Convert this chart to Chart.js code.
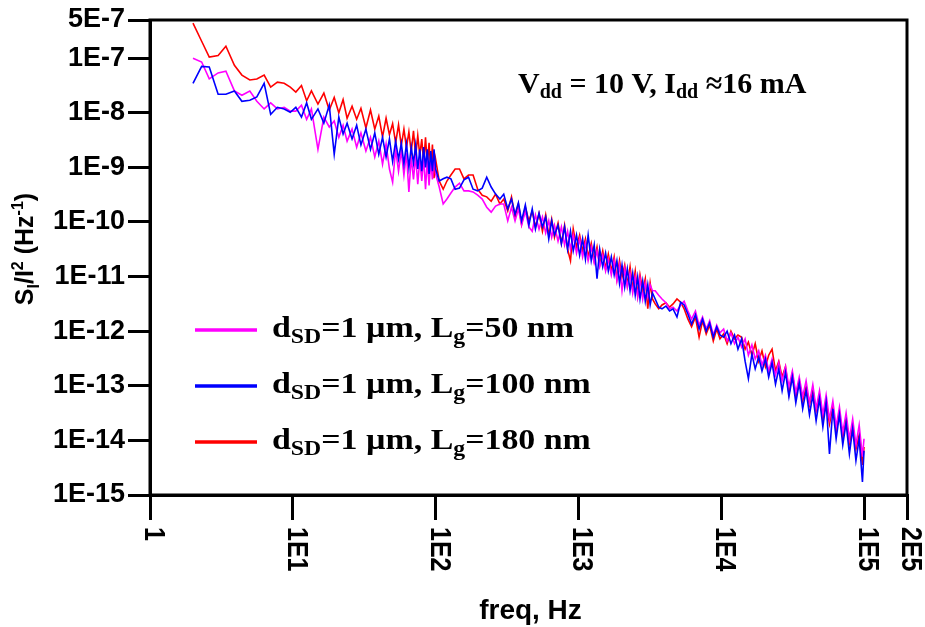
<!DOCTYPE html>
<html><head><meta charset="utf-8">
<script src="https://cdn.jsdelivr.net/npm/chart.js@4"></script>
<style>html,body{margin:0;padding:0;background:#fff}#wrap{width:925px;height:627px}</style>
</head><body><div id="wrap"><canvas id="c" width="925" height="627"></canvas></div>
<script>
// ---------- DATA ----------
const freqHz = [
  2, 2.3, 2.6, 3, 3.4, 3.9, 4.4, 5, 5.6, 6.3, 7, 7.8, 8.7, 9.6,
  10.5, 11.5, 12.5, 13.5, 15, 16.5, 18, 19.5, 21, 22.5, 24, 26, 28, 30, 32.5, 35, 37.5, 40, 42.5, 45, 47.5, 50,
  52.5, 55, 57.5, 60, 62.5, 65, 67.5, 70, 72.5, 75, 77.5, 80, 82.5, 85, 87.5, 90, 92.5, 95, 97.5, 100,
  106, 113, 120, 128, 137, 147, 158, 170, 183, 197, 212, 228, 245, 263, 282,
  300, 320, 340, 360, 380, 400, 425, 450, 475, 500, 530, 560, 590, 620, 650, 680, 720, 760, 800, 840, 880, 920,
  970, 1020, 1070, 1120, 1170, 1230, 1290, 1350, 1410, 1480, 1550, 1620, 1700, 1780, 1860, 1940, 2020, 2110,
  2200, 2300, 2400, 2500, 2600, 2700, 2820, 2940, 3060, 3180, 3300,
  3450, 3650, 3850, 4100, 4350, 4600, 4900, 5200, 5500, 5850, 6200, 6600, 7000, 7400, 7850, 8300, 8800, 9300, 9800,
  10400, 11000, 11700, 12400, 13100, 13900, 14700, 15500, 16400, 17300, 18300, 19300, 20400, 21500, 22700,
  24000, 25300, 26700, 28200, 29800, 31500, 33300, 35200, 37200, 39300, 41500, 43800, 46200, 48800, 51500,
  54300, 57300, 60500, 63800, 67300, 71000, 74900, 79000, 83300, 87800, 92500, 97500, 100000
];
// log10(S_I/I^2) per frequency
const logS_Lg50 = [
  -7.00, -7.07, -7.38, -7.27, -7.24, -7.60, -7.68, -7.60, -7.79, -7.93, -7.82, -7.93, -7.90, -7.97,
  -7.97, -7.86, -8.12, -7.93, -8.67, -8.08, -8.26, -8.15, -8.45, -8.23,
  -8.52, -8.30, -8.63, -8.37, -8.70, -8.45, -8.81, -8.52, -8.94, -8.57,
  -9.03, -9.27, -8.67, -9.07, -8.70, -9.14, -8.74, -9.45, -8.81, -9.22,
  -8.78, -9.31, -8.85, -9.25, -8.81, -9.40, -8.85, -9.33, -8.89, -9.22, -8.81, -9.12,
  -9.36, -9.67, -9.58, -9.47, -9.36, -9.29, -9.43, -9.43, -9.45, -9.51, -9.58, -9.73, -9.82, -9.71, -9.67,
  -9.67, -9.98, -9.73, -9.98, -9.76, -10.06, -9.80, -10.09, -10.17, -9.87,
  -10.13, -9.91, -10.20, -9.98, -10.28, -10.06, -10.35, -10.09, -10.42, -10.17,
  -10.50, -10.24, -10.57, -10.31, -10.64, -10.39, -10.71, -10.46, -10.75, -10.53,
  -10.82, -10.61, -10.90, -10.68, -10.97, -10.71, -11.08, -10.79, -11.26, -10.86,
  -11.19, -10.94, -11.30, -11.01, -11.37, -11.04, -11.41, -11.12, -11.37, -11.15, -11.26,
  -11.26, -11.34, -11.41, -11.48, -11.59, -11.56, -11.63, -11.52, -11.45, -11.63,
  -11.78, -11.63, -11.89, -11.74, -11.96, -11.81, -12.07, -11.89, -12.03,
  -11.96, -12.18, -12.03, -12.23, -12.11, -12.29, -12.14, -12.44, -12.25, -12.51,
  -12.36, -12.62, -12.44, -12.73, -12.51, -12.80, -12.58, -12.91, -12.65, -13.02,
  -12.73, -13.13, -12.84, -13.20, -12.91, -13.31, -12.98, -13.42, -13.09, -13.53,
  -13.17, -13.61, -13.28, -13.75, -13.39, -13.86, -13.50, -13.97, -13.61, -14.08,
  -13.72, -14.30, -13.97
];
const logS_Lg100 = [
  -7.46, -7.15, -7.16, -7.66, -7.66, -7.60, -7.79, -7.77, -7.71, -7.46, -8.03, -7.90, -7.93, -7.99,
  -7.90, -8.08, -7.82, -8.12, -7.93, -8.19, -7.86, -8.76, -8.08, -8.39,
  -8.19, -8.48, -8.23, -8.59, -8.30, -8.67, -8.37, -8.76, -8.45, -8.81,
  -8.48, -8.89, -8.52, -8.85, -8.56, -8.94, -8.57, -9.00, -8.63, -8.92,
  -8.59, -9.03, -8.67, -9.07, -8.63, -9.00, -8.67, -9.12, -8.70, -9.07, -8.67, -9.03,
  -9.25, -9.21, -9.18, -9.21, -9.40, -9.38, -9.23, -9.18, -9.40, -9.43, -9.38, -9.18, -9.36, -9.49, -9.58,
  -9.49, -9.76, -9.58, -9.86, -9.65, -9.98, -9.69, -10.06, -9.76, -10.13,
  -9.84, -10.09, -9.91, -10.31, -9.98, -10.24, -10.06, -10.40, -10.09, -10.50,
  -10.17, -10.53, -10.24, -10.61, -10.31, -10.68, -10.24, -10.71, -10.42, -11.04,
  -10.50, -10.82, -10.57, -10.90, -10.64, -10.97, -10.71, -11.12, -10.79, -11.19,
  -10.86, -11.26, -10.94, -11.34, -11.01, -11.41, -11.08, -11.45, -11.15, -11.52, -11.30,
  -11.41, -11.56, -11.59, -11.54, -11.63, -11.59, -11.74, -11.47, -11.52, -11.69,
  -11.87, -11.70, -11.96, -11.78, -12.00, -11.85, -12.11, -11.92, -12.07,
  -12.11, -12.00, -12.23, -12.07, -12.33, -12.14, -12.55, -12.87, -12.42, -12.69,
  -12.47, -12.73, -12.51, -12.84, -12.58, -12.97, -12.69, -13.09, -12.76, -13.20,
  -12.84, -13.31, -12.95, -13.42, -13.09, -13.53, -13.17, -13.64, -13.24, -13.75,
  -13.31, -14.25, -13.42, -13.97, -13.53, -14.08, -13.68, -14.25, -13.79, -14.37,
  -13.97, -14.76, -14.19
];
const logS_Lg180 = [
  -6.36, -6.69, -6.98, -6.95, -6.78, -7.13, -7.31, -7.40, -7.38, -7.31, -7.53, -7.44, -7.46, -7.53,
  -7.62, -7.50, -7.78, -7.60, -7.84, -7.64, -7.95, -7.72, -8.00, -7.76,
  -8.10, -7.88, -8.12, -7.92, -8.28, -7.95, -8.30, -8.06, -8.44, -8.10,
  -8.40, -8.20, -8.55, -8.22, -8.60, -8.30, -8.64, -8.35, -8.72, -8.33,
  -8.80, -8.42, -8.78, -8.48, -8.92, -8.45, -8.96, -8.55, -9.05, -8.58, -9.20, -8.85,
  -9.25, -9.40, -9.25, -9.14, -9.03, -9.03, -9.21, -9.14, -9.14, -9.40, -9.51, -9.54, -9.62, -9.49, -9.67,
  -9.58, -9.80, -9.54, -9.91, -9.67, -10.04, -9.73, -9.98, -9.80, -10.09,
  -9.84, -10.17, -9.87, -10.24, -9.95, -10.28, -10.02, -10.39, -10.06, -10.50,
  -10.71, -10.13, -10.46, -10.24, -10.53, -10.31, -10.64, -10.39, -10.71, -10.46,
  -10.79, -10.53, -10.86, -10.59, -10.90, -10.64, -11.04, -10.71, -11.01, -10.79,
  -11.15, -10.82, -11.23, -10.90, -11.34, -10.97, -11.26, -11.04, -11.59, -11.12, -11.41,
  -11.50, -11.59, -11.52, -11.48, -11.56, -11.50, -11.41, -11.47, -11.59, -11.78,
  -11.92, -11.74, -12.11, -11.81, -12.05, -11.89, -12.18, -11.96, -12.14,
  -12.05, -12.23, -12.00, -12.14, -12.07, -12.11, -12.33, -12.20, -12.44, -12.23,
  -12.55, -12.36, -12.65, -12.44, -12.33, -12.73, -12.55, -12.84, -12.65, -13.15,
  -12.78, -13.20, -12.91, -13.28, -13.02, -13.35, -13.06, -13.46, -13.17, -13.61,
  -13.28, -13.70, -13.39, -13.83, -13.50, -13.94, -13.61, -14.05, -13.75, -14.16,
  -13.90, -14.45, -14.12
];
const seriesLabels = ['dSD=1 µm, Lg=50 nm', 'dSD=1 µm, Lg=100 nm', 'dSD=1 µm, Lg=180 nm'];
const legendParts = [
  ['d', 'SD', '=1 µm, L', 'g', '=50 nm'],
  ['d', 'SD', '=1 µm, L', 'g', '=100 nm'],
  ['d', 'SD', '=1 µm, L', 'g', '=180 nm']
];
const seriesColors = ['#ff00ff', '#0000ff', '#ff0000'];
const xTickValues = [1, 10, 100, 1000, 10000, 100000, 200000];
const xTickLabels = ['1', '1E1', '1E2', '1E3', '1E4', '1E5', '2E5'];
const yTickValues = [1e-15, 1e-14, 1e-13, 1e-12, 1e-11, 1e-10, 1e-9, 1e-8, 1e-7, 5e-7];
const yTickLabels = ['1E-15', '1E-14', '1E-13', '1E-12', '1E-11', '1E-10', '1E-9', '1E-8', '1E-7', '5E-7'];

// ---------- CHART ----------
const SANS = '"Liberation Sans", Arial, sans-serif';
const SERIF = '"Liberation Serif", "Times New Roman", serif';
const toPoints = logs => freqHz.map((f, i) => ({ x: f, y: Math.pow(10, logs[i]) }));
const seriesLogs = [logS_Lg50, logS_Lg100, logS_Lg180];
const drawOrder = [1, 0, 2];

function drawRich(ctx, parts, x, y, family, size, subSize, subDy) {
  let cx = x;
  parts.forEach((t, i) => {
    const sub = i % 2 === 1;
    ctx.font = 'bold ' + (sub ? subSize : size) + 'px ' + family;
    ctx.fillText(t, cx, y + (sub ? subDy : 0));
    cx += ctx.measureText(t).width;
  });
  return cx - x;
}
function richWidth(ctx, items) {
  let w = 0;
  items.forEach(it => { ctx.font = 'bold ' + it[1] + 'px ' + SANS; w += ctx.measureText(it[0]).width; });
  return w;
}

const decor = {
  id: 'decor',
  afterDraw(chart) {
    const ctx = chart.ctx;
    const a = chart.chartArea;
    const xs = chart.scales.x;
    ctx.save();
    ctx.strokeStyle = '#000';
    ctx.lineWidth = 3;
    ctx.strokeRect(a.left, a.top, a.right - a.left, a.bottom - a.top);
    ctx.fillStyle = '#000';
    // x tick labels, rotated clockwise
    ctx.font = 'bold 25px ' + SANS;
    ctx.textAlign = 'left';
    ctx.textBaseline = 'middle';
    xTickValues.forEach((v, i) => {
      const px = xs.getPixelForValue(v);
      ctx.save();
      ctx.translate(px + 3, a.bottom + 32);
      ctx.rotate(Math.PI / 2);
      ctx.scale(1, 1.15);
      ctx.fillText(xTickLabels[i], 0, 0);
      ctx.restore();
    });
    // x title
    ctx.textBaseline = 'alphabetic';
    ctx.textAlign = 'center';
    ctx.font = 'bold 28px ' + SANS;
    ctx.fillText('freq, Hz', (a.left + a.right) / 2 + 2, 619);
    // y title (rotated CCW)
    ctx.textAlign = 'left';
    const yItems = [['S', 25, 0], ['I', 16, 6], ['/I', 25, 0], ['2', 16, -10], [' (Hz', 25, 0], ['-1', 16, -10], [')', 25, 0]];
    const w = richWidth(ctx, yItems);
    ctx.save();
    ctx.translate(33, 249);
    ctx.rotate(-Math.PI / 2);
    let cx = -w / 2;
    yItems.forEach(it => {
      ctx.font = 'bold ' + it[1] + 'px ' + SANS;
      ctx.fillText(it[0], cx, it[2]);
      cx += ctx.measureText(it[0]).width;
    });
    ctx.restore();
    // legend
    const rowsY = [330, 386, 442];
    chart.data.datasets.forEach((ds, i) => {
      ctx.strokeStyle = ds.borderColor;
      ctx.lineWidth = 3.5;
      ctx.beginPath();
      ctx.moveTo(195, rowsY[i]);
      ctx.lineTo(257, rowsY[i]);
      ctx.stroke();
      ctx.fillStyle = '#000';
      ctx.save();
      ctx.translate(272, rowsY[i] + 7);
      ctx.scale(1.13, 1);
      drawRich(ctx, legendParts[i], 0, 0, SERIF, 30, 21, 6);
      ctx.restore();
    });
    // annotation
    drawRich(ctx, ['V', 'dd', ' = 10 V, I', 'dd', ' \u224816 mA'], 518, 93, SERIF, 30, 20, 5);
    ctx.restore();
  }
};

new Chart(document.getElementById('c'), {
  type: 'line',
  data: {
    datasets: seriesLabels.map((lab, i) => ({
      label: lab,
      data: toPoints(seriesLogs[i]),
      borderColor: seriesColors[i],
      backgroundColor: seriesColors[i],
      borderWidth: 1.6,
      pointRadius: 0,
      tension: 0,
      fill: false,
      order: drawOrder[i]
    }))
  },
  options: {
    responsive: false,
    devicePixelRatio: 1,
    animation: false,
    layout: { padding: { top: 20, right: 18, left: 0, bottom: 0 } },
    plugins: { legend: { display: false }, tooltip: { enabled: false } },
    scales: {
      x: {
        type: 'logarithmic',
        min: 1, max: 200000,
        afterBuildTicks: s => { s.ticks = xTickValues.map(v => ({ value: v })); },
        afterFit: s => { s.height = 132; },
        ticks: { display: false },
        grid: { display: true, drawOnChartArea: false, drawTicks: true, tickLength: 25, tickWidth: 3, tickColor: '#000', color: '#000', lineWidth: 3 },
        border: { display: true, color: '#000', width: 3 }
      },
      y: {
        type: 'logarithmic',
        min: 1e-15, max: 5e-7,
        afterBuildTicks: s => { s.ticks = yTickValues.map(v => ({ value: v })); },
        afterFit: s => { s.width = 150; },
        ticks: {
          autoSkip: false,
          padding: 3,
          color: '#000',
          font: { family: SANS, size: 27, weight: 'bold' },
          callback: (v, i) => yTickLabels[i]
        },
        grid: { display: true, drawOnChartArea: false, drawTicks: true, tickLength: 22, tickWidth: 3, tickColor: '#000', color: '#000', lineWidth: 3 },
        border: { display: true, color: '#000', width: 3 }
      }
    }
  },
  plugins: [decor]
});
</script>
</body></html>
